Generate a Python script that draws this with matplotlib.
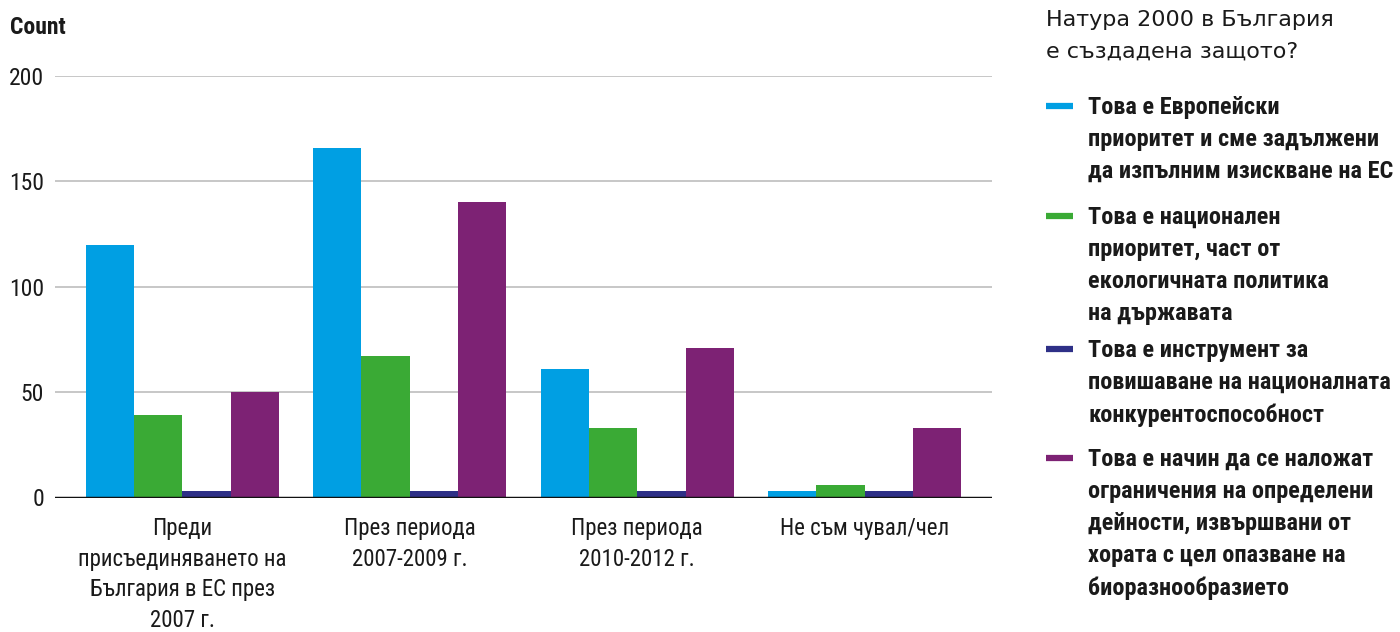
import numpy as np
import matplotlib.pyplot as plt
from matplotlib.lines import Line2D

categories = [
    'Преди\nприсъединяването на\nБългария в ЕС през\n2007 г.',
    'През периода\n2007-2009 г.',
    'През периода\n2010-2012 г.',
    'Не съм чувал/чел',
]
series_labels = [
    'Това е Европейски\nприоритет и сме задължени\nда изпълним изискване на ЕС',
    'Това е национален\nприоритет, част от\nекологичната политика\nна държавата',
    'Това е инструмент за\nповишаване на националната\nконкурентоспособност',
    'Това е начин да се наложат\nограничения на определени\nдейности, извършвани от\nхората с цел опазване на\nбиоразнообразието',
]
eu_priority = [120, 166, 61, 3]
national_priority = [39, 67, 33, 6]
competitiveness = [3, 3, 3, 3]
restrictions = [50, 140, 71, 33]
yticks = [0, 50, 100, 150, 200]
legend_title = 'Натура 2000 в България\nе създадена защото?'

colors = ['#009fe3', '#3aaa35', '#2e3087', '#7d2274']
ink = '#1a1a1a'
narrow = ['Roboto Condensed', 'Roboto', 'DejaVu Sans']
plain = ['DejaVu Sans']

fig = plt.figure(figsize=(14, 6.32), dpi=100)
ax = fig.add_axes([55 / 1400, 1 - 497.5 / 632, (992 - 55) / 1400, (497.5 - 76) / 632])

series = [eu_priority, national_priority, competitiveness, restrictions]
x = np.arange(len(categories))
w = 0.2125
for i, vals in enumerate(series):
    ax.bar(x + (i - 1.5) * w, vals, width=w, color=colors[i], zorder=2, linewidth=0)

ax.set_xlim(-0.56, 3.56)
ax.set_ylim(0, 200)
ax.set_yticks(yticks)
ax.grid(axis='y', color='#bdbdbd', linewidth=1.2, zorder=0)
ax.axhline(0, color='#111111', linewidth=2.5, zorder=3)
for s in ax.spines.values():
    s.set_visible(False)
ax.tick_params(length=0, colors=ink)
ax.tick_params(axis='y', pad=8)
ax.tick_params(axis='x', pad=14)
ax.set_xticks(x)
ax.set_xticklabels(categories, family=narrow, fontsize=16.5, linespacing=1.43, color=ink)
for t in ax.get_yticklabels():
    t.set_family(narrow)
    t.set_fontsize(17)

fig.text(10 / 1400, 1 - 27 / 632, 'Count', family=narrow, fontsize=17,
         fontweight='bold', va='center', ha='left', color=ink)

# legend drawn by hand so the swatch sits on the first line of each entry
fig.text(1046 / 1400, 1 - 10 / 632, legend_title, family=plain, fontsize=16,
         va='top', ha='left', color=ink, linespacing=1.7)
entry_tops = [106, 216, 349, 458]
for i, lab in enumerate(series_labels):
    yc = 1 - entry_tops[i] / 632
    fig.add_artist(Line2D([1046 / 1400, 1073 / 1400], [yc, yc], color=colors[i],
                          linewidth=4.5, solid_capstyle='butt'))
    fig.text(1088 / 1400, yc + 10 / 632, lab, family=narrow, fontsize=17.5,
             fontweight='bold', va='top', ha='left', color=ink, linespacing=1.5)

fig.savefig('out.png', dpi=100)
